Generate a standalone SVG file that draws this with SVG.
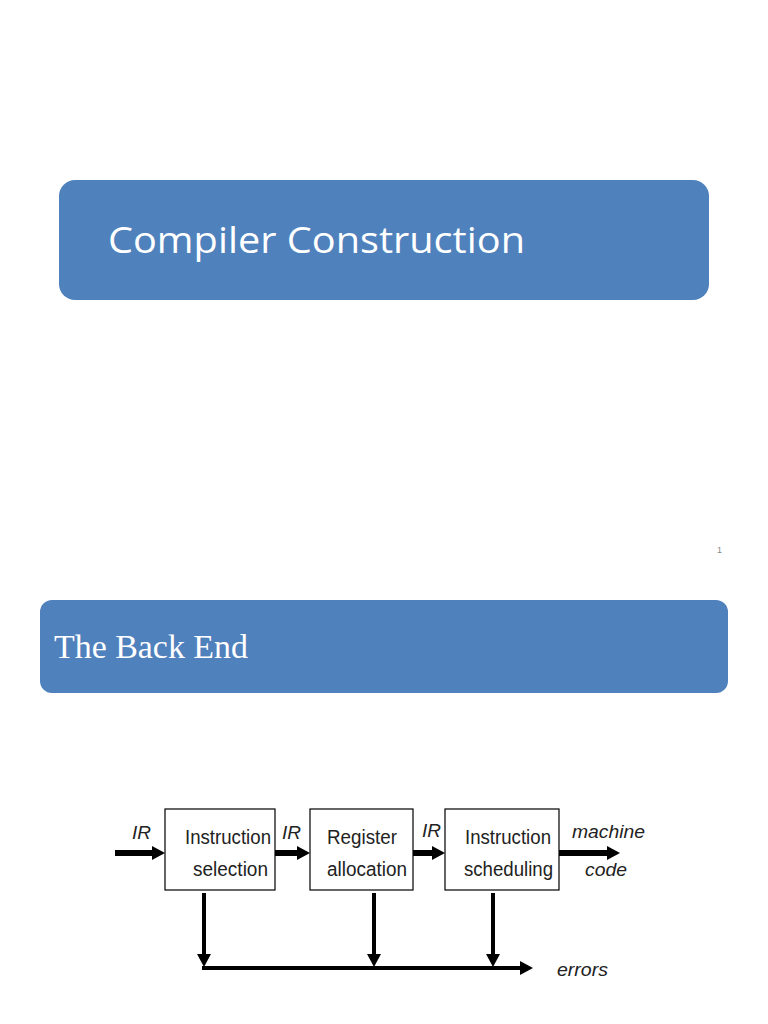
<svg xmlns="http://www.w3.org/2000/svg" width="768" height="1024" viewBox="0 0 768 1024">
<defs>
<style>
.banner{fill:#4F81BD}
.box{fill:#fff;stroke:#000;stroke-width:1.2}
.bt{font-family:"Liberation Sans",Arial,sans-serif;font-size:20px;fill:#222}
.it{font-family:"Liberation Sans",Arial,sans-serif;font-size:19px;font-style:italic;fill:#222}
.thick{stroke:#000;stroke-width:6;fill:none}
.thin{stroke:#000;stroke-width:4;fill:none}
</style>
<marker id="ah" markerWidth="13" markerHeight="14" refX="0" refY="7" orient="auto" markerUnits="userSpaceOnUse"><path d="M0,0 L13,7 L0,14 Z" fill="#000"/></marker>
</defs>
<rect width="768" height="1024" fill="#fff"/>
<g id="title1">
<rect class="banner" x="59" y="180" width="650" height="120" rx="16"/>
<text x="108" y="253" font-family="'Open Sans','Liberation Sans',sans-serif" font-size="37" fill="#fff" textLength="417" lengthAdjust="spacingAndGlyphs">Compiler Construction</text>
</g>
<text id="pagenum" x="717" y="553" font-family="'Liberation Sans',sans-serif" font-size="9" fill="#888">1</text>
<g id="title2">
<rect class="banner" x="40" y="600" width="688" height="93" rx="12"/>
<text x="54" y="658" font-family="'Liberation Serif','Times New Roman',serif" font-size="33" fill="#fff" textLength="194" lengthAdjust="spacingAndGlyphs">The Back End</text>
</g>
<g id="connectors">
<line class="thick" x1="115" y1="853" x2="152" y2="853" marker-end="url(#ah)"/>
<line class="thick" x1="275" y1="853" x2="297" y2="853" marker-end="url(#ah)"/>
<line class="thick" x1="413" y1="853" x2="432" y2="853" marker-end="url(#ah)"/>
<line class="thick" x1="559" y1="853" x2="607" y2="853" marker-end="url(#ah)"/>
<line class="thin" x1="204" y1="893" x2="204" y2="954" marker-end="url(#ah)"/>
<line class="thin" x1="374" y1="893" x2="374" y2="954" marker-end="url(#ah)"/>
<line class="thin" x1="493" y1="893" x2="493" y2="954" marker-end="url(#ah)"/>
<line class="thin" x1="202" y1="968" x2="520" y2="968" marker-end="url(#ah)"/>
</g>
<g id="labels">
<text class="it" x="132" y="839" textLength="19" lengthAdjust="spacingAndGlyphs">IR</text>
<text class="it" x="282" y="839" textLength="19" lengthAdjust="spacingAndGlyphs">IR</text>
<text class="it" x="422" y="837" textLength="19" lengthAdjust="spacingAndGlyphs">IR</text>
<text class="it" x="572" y="838" textLength="73" lengthAdjust="spacingAndGlyphs">machine</text>
<text class="it" x="585" y="876" textLength="42" lengthAdjust="spacingAndGlyphs">code</text>
<text class="it" x="557" y="976" textLength="51" lengthAdjust="spacingAndGlyphs">errors</text>
</g>
<g id="isel">
<rect class="box" x="165" y="809" width="110" height="81"/>
<text class="bt" x="185" y="844" textLength="86" lengthAdjust="spacingAndGlyphs">Instruction</text>
<text class="bt" x="193" y="876" textLength="75" lengthAdjust="spacingAndGlyphs">selection</text>
</g>
<g id="ralloc">
<rect class="box" x="310" y="809" width="103" height="81"/>
<text class="bt" x="327" y="844" textLength="70" lengthAdjust="spacingAndGlyphs">Register</text>
<text class="bt" x="327" y="876" textLength="80" lengthAdjust="spacingAndGlyphs">allocation</text>
</g>
<g id="isched">
<rect class="box" x="445" y="809" width="114" height="81"/>
<text class="bt" x="465" y="844" textLength="86" lengthAdjust="spacingAndGlyphs">Instruction</text>
<text class="bt" x="464" y="876" textLength="89" lengthAdjust="spacingAndGlyphs">scheduling</text>
</g>
</svg>
